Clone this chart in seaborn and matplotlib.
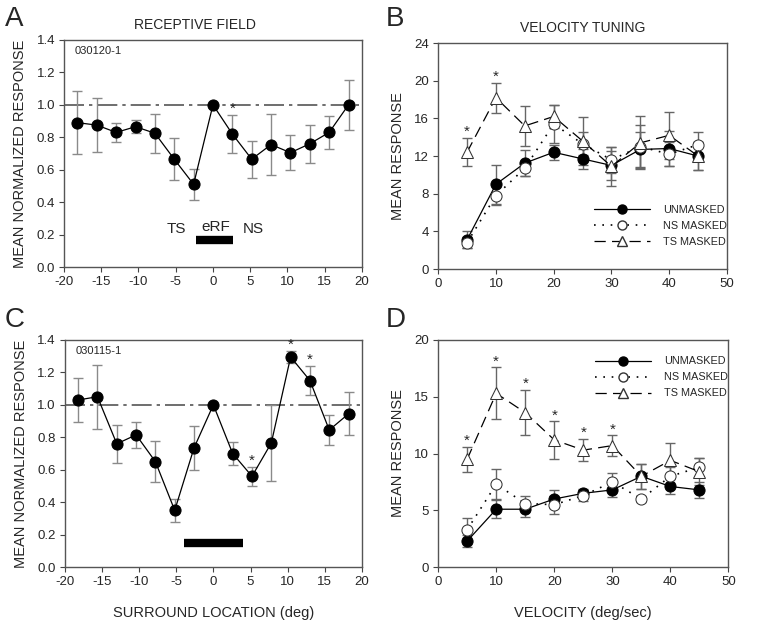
import numpy as np
import pandas as pd
import matplotlib
matplotlib.use("Agg")
import matplotlib.pyplot as plt
import seaborn as sns
from matplotlib.lines import Line2D

# surround location (deg) for panels A and C
loc = [-18.2, -15.6, -13, -10.4, -7.8, -5.2, -2.6, 0, 2.6, 5.2, 7.8, 10.4, 13, 15.6, 18.2]

# panel A (030120-1)
a_mean = [0.89, 0.875, 0.83, 0.865, 0.825, 0.665, 0.51, 1.0, 0.82, 0.665, 0.755, 0.705, 0.76, 0.83, 1.0]
a_err = [0.195, 0.165, 0.06, 0.04, 0.12, 0.13, 0.095, 0.0, 0.115, 0.115, 0.19, 0.107, 0.118, 0.1, 0.155]
a_star = [2.6]

# panel C (030115-1)
c_mean = [1.03, 1.05, 0.76, 0.815, 0.65, 0.35, 0.735, 1.0, 0.70, 0.56, 0.765, 1.295, 1.15, 0.845, 0.945]
c_err = [0.137, 0.197, 0.118, 0.078, 0.127, 0.07, 0.135, 0.0, 0.07, 0.057, 0.235, 0.037, 0.088, 0.09, 0.133]
c_star = [5.2, 10.4, 13]

# velocity (deg/sec) for panels B and D
vel = [5, 10, 15, 20, 25, 30, 35, 40, 45]

# panel B
b_unm = [3.1, 9.0, 11.25, 12.4, 11.7, 11.0, 12.7, 12.8, 12.0]
b_unm_err = [0.9, 2.1, 1.35, 0.8, 1.1, 1.5, 1.9, 1.9, 1.5]
b_ns = [2.8, 7.8, 10.7, 15.4, 13.3, 11.6, 13.0, 12.2, 13.2]
b_ns_err = [0.6, 1.0, 0.8, 2.0, 1.2, 1.4, 2.3, 1.3, 1.3]
b_ts = [12.4, 18.2, 15.2, 16.2, 13.6, 10.9, 13.4, 14.2, 12.0]
b_ts_err = [1.5, 1.6, 2.1, 1.2, 2.5, 2.1, 2.8, 2.5, 1.5]
b_star = [5, 10]

# panel D
d_unm = [2.3, 5.1, 5.1, 6.0, 6.5, 6.8, 8.0, 7.1, 6.8]
d_unm_err = [0.5, 0.8, 0.7, 0.8, 0.4, 0.65, 1.1, 0.7, 0.7]
d_ns = [3.3, 7.3, 5.6, 5.5, 6.3, 7.5, 6.0, 8.0, 8.8]
d_ns_err = [1.0, 1.3, 0.7, 0.8, 0.5, 0.8, 0.3, 0.8, 0.8]
d_ts = [9.5, 15.3, 13.6, 11.2, 10.3, 10.7, 8.0, 9.4, 8.4]
d_ts_err = [1.1, 2.3, 2.0, 1.65, 1.0, 0.9, 1.1, 1.5, 1.2]
d_star = [5, 10, 15, 20, 25, 30]

sns.set_style("white")
plt.rcParams['font.family'] = ['Liberation Sans', 'DejaVu Sans']
plt.rcParams['axes.unicode_minus'] = False
plt.rcParams['xtick.labelsize'] = 9.5
plt.rcParams['ytick.labelsize'] = 9.5

fig = plt.figure(figsize=(7.62, 6.33), dpi=100)
axA = fig.add_axes([0.084, 0.578, 0.391, 0.359])
axB = fig.add_axes([0.575, 0.575, 0.379, 0.357])
axC = fig.add_axes([0.085, 0.104, 0.39, 0.359])
axD = fig.add_axes([0.575, 0.104, 0.381, 0.359])

ecol = '#8a8a8a'


def style_axes(ax):
    for s in ax.spines.values():
        s.set_color('#555555')
        s.set_linewidth(1.0)
    ax.tick_params(direction='out', length=3.5, width=0.8, color='#444444', pad=3,
                   bottom=True, left=True)


def rf_panel(ax, mean, err, stars, tag):
    ax.axhline(1.0, color='#555555', lw=1.2, linestyle=(0, (12, 3, 2, 3)), zorder=1)
    ax.errorbar(loc, mean, yerr=err, fmt='none', ecolor=ecol, elinewidth=1.0,
                capsize=3.5, capthick=1.0, zorder=2)
    sns.lineplot(x=loc, y=mean, ax=ax, color='black', lw=0.9, marker='o',
                 markersize=8, markerfacecolor='black', markeredgecolor='black', zorder=3)
    for s in stars:
        i = loc.index(s)
        ax.text(s, mean[i] + err[i] - 0.005, '*', ha='center', va='bottom', fontsize=11)
    ax.set_xlim(-20, 20)
    ax.set_ylim(0, 1.4)
    ax.set_xticks(np.arange(-20, 21, 5))
    ax.set_yticks(np.arange(0, 1.41, 0.2))
    ax.yaxis.set_major_formatter(matplotlib.ticker.FormatStrFormatter('%.1f'))
    ax.set_ylabel('MEAN NORMALIZED RESPONSE', fontsize=10.5, labelpad=7)
    ax.text(-18.6, 1.33, tag, fontsize=8, va='center')
    style_axes(ax)


def vel_panel(ax, unm, unm_e, ns, ns_e, ts, ts_e, stars):
    for m, e in [(unm, unm_e), (ns, ns_e), (ts, ts_e)]:
        ax.errorbar(vel, m, yerr=e, fmt='none', ecolor='#666666', elinewidth=1.0,
                    capsize=3.5, capthick=1.0, zorder=2)
    sns.lineplot(x=vel, y=unm, ax=ax, color='black', lw=0.9, marker='o', markersize=8,
                 markerfacecolor='black', markeredgecolor='black', zorder=4)
    sns.lineplot(x=vel, y=ns, ax=ax, color='black', lw=1.2, linestyle=(0, (1, 4)),
                 marker='o', markersize=8, markerfacecolor='white',
                 markeredgecolor='#333333', zorder=4)
    sns.lineplot(x=vel, y=ts, ax=ax, color='black', lw=0.9, linestyle=(0, (9, 5)),
                 marker='^', markersize=8, markerfacecolor='white',
                 markeredgecolor='#333333', zorder=4)
    for s in stars:
        i = vel.index(s)
        ax.text(s, ts[i] + ts_e[i] - ax.get_ylim()[1] * 0.005, '*', ha='center',
                va='bottom', fontsize=11)
    ax.set_xlim(0, 50)
    ax.set_xticks(np.arange(0, 51, 10))
    ax.set_ylabel('MEAN RESPONSE', fontsize=10.5, labelpad=7)
    style_axes(ax)


def vel_legend(ax, anchor):
    h = [Line2D([], [], color='black', lw=0.9, marker='o', ms=6.5, mfc='black', mec='black'),
         Line2D([], [], color='black', lw=1.2, ls=(0, (1, 4)), marker='o', ms=6.5,
                mfc='white', mec='#333333'),
         Line2D([], [], color='black', lw=0.9, ls=(0, (9, 5)), marker='^', ms=6.5,
                mfc='white', mec='#333333')]
    ax.legend(h, ['UNMASKED', 'NS MASKED', 'TS MASKED'], loc='center left',
              bbox_to_anchor=anchor, frameon=False, fontsize=7.8, handlelength=5.2,
              handletextpad=1.2, labelspacing=0.55, borderaxespad=0)


# A
rf_panel(axA, a_mean, a_err, a_star, '030120-1')
axA.text(-2.4, 1.49, 'RECEPTIVE FIELD', ha='center', va='center', fontsize=10)
axA.text(-4.9, 0.235, 'TS', ha='center', va='center', fontsize=11)
axA.text(0.4, 0.25, 'eRF', ha='center', va='center', fontsize=11)
axA.text(5.4, 0.235, 'NS', ha='center', va='center', fontsize=11)
axA.plot([-2.3, 2.7], [0.165, 0.165], color='black', lw=6, solid_capstyle='butt')

# C
rf_panel(axC, c_mean, c_err, c_star, '030115-1')
axC.plot([-4.0, 4.0], [0.15, 0.15], color='black', lw=6, solid_capstyle='butt')
axC.set_xlabel('SURROUND LOCATION (deg)', fontsize=10.5, labelpad=13)

# B
axB.set_ylim(0, 24)
axB.set_yticks(np.arange(0, 25, 4))
vel_panel(axB, b_unm, b_unm_err, b_ns, b_ns_err, b_ts, b_ts_err, b_star)
axB.text(25, 25.6, 'VELOCITY TUNING', ha='center', va='center', fontsize=10)
vel_legend(axB, (0.525, 0.19))

# D
axD.set_ylim(0, 20)
axD.set_yticks(np.arange(0, 21, 5))
vel_panel(axD, d_unm, d_unm_err, d_ns, d_ns_err, d_ts, d_ts_err, d_star)
axD.set_xlabel('VELOCITY (deg/sec)', fontsize=10.5, labelpad=13)
vel_legend(axD, (0.525, 0.835))

# panel letters
fig.text(0.006, 0.99, 'A', fontsize=20, va='top')
fig.text(0.506, 0.99, 'B', fontsize=20, va='top')
fig.text(0.006, 0.515, 'C', fontsize=20, va='top')
fig.text(0.506, 0.515, 'D', fontsize=20, va='top')

fig.savefig('out.png', dpi=100)
